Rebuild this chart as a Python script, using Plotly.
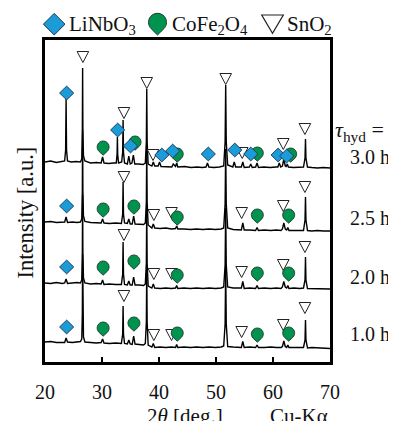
import math
import plotly.graph_objects as go

FONT = "Liberation Serif"

# ---------------- data ----------------
HOUR_LABELS = ["3.0 h.", "2.5 h.", "2.0 h.", "1.0 h."]
OFFSETS = [200, 140, 79, 20]          # vertical stacking offsets (a.u.)
X_TICKS = [20, 30, 40, 50, 60, 70]

# 3.0 h pattern (2theta, intensity a.u.)
X_TOP = [20.0, 21.0, 22.0, 23.0, 23.45, 23.62, 23.7, 23.78, 23.95, 24.6,
         25.4, 26.2, 26.45, 26.55, 26.6, 26.65, 26.75, 27.0, 28.0, 29.0,
         29.85, 30.1, 30.35, 31.2, 32.0, 32.5, 32.65, 32.7, 32.75, 32.9,
         33.45, 33.63, 33.7, 33.77, 33.95, 34.45, 34.7, 34.95, 35.25, 35.5,
         35.75, 36.4, 37.2, 37.6, 37.78, 37.85, 37.92, 38.1, 38.75, 39.0,
         39.25, 39.85, 40.1, 40.35, 41.3, 42.25, 42.5, 42.75, 42.9, 43.1,
         43.3, 44.5, 45.6, 46.7, 47.6, 48.25, 48.5, 48.75, 49.6, 50.6,
         51.35, 51.6, 51.7, 51.8, 52.05, 52.95, 53.2, 53.45, 54.45, 54.7,
         54.95, 55.85, 56.1, 56.35, 56.95, 57.2, 57.45, 58.4, 59.5, 60.5,
         60.85, 61.1, 61.35, 61.65, 61.9, 62.15, 62.3, 62.5, 62.7, 63.6,
         64.6, 65.35, 65.62, 65.7, 65.78, 66.05, 66.8, 67.8, 68.8, 70.0]
INT_30 = [0, 1, -0.5, 0.5, 1, 12, 63, 12, 1, 0,
          0.5, 0, 3, 30, 94, 30, 6, 1, -1, -0.5,
          -1, 5, -1, -1.5, -1, -1, 8, 25, 8, -1,
          0, 10, 42, 10, -1, -2, 6, -2, -1, 7,
          -2, -2, -2.5, -1, 20, 73, 20, -2, -4, 0,
          -4, -4, 0, -4.5, -4.5, -5, -2, -4.5, -4.5, -1,
          -5, -4.5, -5.5, -5, -5.5, -5, -1, -5, -5.5, -5,
          -4, 20, 77, 20, -3, -5, 0, -5, -5, 0,
          -5.5, -5, -2, -5.5, -5, -1, -5.5, -5, -5.5, -5,
          -5, -1, -5, -4, 3, -4, -4.5, -2, -5, -5.5,
          -5, -5, 4, 23, 4, -5, -5.5, -6, -5.5, -6]

# 2.5 h, 2.0 h, 1.0 h patterns share one 2theta grid
X_LOW = [20.0, 21.0, 22.0, 23.0, 23.45, 23.7, 23.95, 24.8, 25.6, 26.2,
         26.45, 26.55, 26.6, 26.65, 26.75, 27.0, 28.0, 29.0, 29.85, 30.1,
         30.35, 31.3, 32.4, 33.4, 33.63, 33.7, 33.77, 33.95, 34.45, 34.7,
         34.95, 35.3, 35.55, 35.8, 36.5, 37.3, 37.6, 37.78, 37.85, 37.92,
         38.1, 38.75, 39.0, 39.25, 40.2, 41.2, 42.2, 42.9, 43.1, 43.3,
         44.4, 45.5, 46.6, 47.7, 48.8, 49.9, 50.9, 51.35, 51.6, 51.7,
         51.8, 52.05, 53.0, 54.45, 54.7, 54.95, 55.9, 56.95, 57.2, 57.45,
         58.5, 59.6, 60.6, 61.4, 61.65, 61.9, 62.15, 62.4, 62.6, 62.8,
         63.7, 64.7, 65.35, 65.62, 65.7, 65.78, 66.05, 66.8, 67.8, 68.8,
         70.0]
INT_25 = [0, 0.5, -0.5, 0, 0, 5, -0.5, 0, -0.5, 0,
          3, 30, 92, 30, 6, 0.5, -0.5, -1, -1, 3,
          -1, -1.5, -1, -1.5, 8, 40, 8, -1, -1.5, 3,
          -2, -2, 6, -2, -2, -2.5, -1, 20, 76, 20,
          -3, -6, -2, -6, -6.5, -6, -7, -6.5, -4, -7,
          -7, -7.5, -7, -7.5, -7, -7.5, -7, -6, 18, 73,
          18, -6, -7.5, -8, -1, -8, -8, -8.5, -5.5, -8.5,
          -8, -8.5, -8, -8.5, -7, -1, -7, -8, -5.5, -8.5,
          -8.5, -8.5, -8.5, 2, 25, 2, -8.5, -9, -8.5, -9,
          -9]
INT_20 = [0, -0.5, 0.5, -0.5, 0, 4, -0.5, 0, 0.5, 0,
          3, 28, 88, 28, 5, 0, -1, -0.5, -1, 3,
          -1.5, -1, -1.5, -1.5, 9, 41, 9, -1.5, -2, 2,
          -2, -2, 6, -2, -2, -2.5, -1, 20, 75, 20,
          -3, -5, -1, -5, -5.5, -5, -5.5, -5, -2.5, -5.5,
          -5, -5.5, -5, -5.5, -5, -5.5, -5, -4, 18, 75,
          18, -4, -5, -5, 1.5, -5.5, -5, -5.5, -2.5, -5.5,
          -5, -5.5, -5, -5.5, -4, 1.5, -4, -5, -2.5, -5.5,
          -5, -5.5, -5, 3, 26, 3, -5.5, -5.5, -6, -5.5,
          -6]
INT_10 = [0, 0.5, -0.5, 0, -0.5, 4, 0, -0.5, 0, 0.5,
          3, 28, 88, 28, 5, 0, -0.5, -1, -0.5, 3,
          -1, -1.5, -1, -1.5, 8, 36, 8, -1.5, -2, 2,
          -2, -2.5, 6, -2, -2.5, -3, -1.5, 20, 74, 20,
          -3, -5, -1.5, -5.5, -5, -5.5, -5, -5.5, -2.5, -5.5,
          -5, -5.5, -5, -5.5, -5, -5.5, -5, -4, 18, 75,
          18, -4.5, -5, -5.5, 0.5, -5.5, -5, -5.5, -3, -5.5,
          -5.5, -5, -5.5, -5.5, -4.5, 1, -4.5, -5.5, -3, -5.5,
          -5.5, -5.5, -5.5, 2, 22, 2, -6, -5.5, -6, -6,
          -6.5]

# phase markers (2theta, level above each pattern's offset)
LN_X_30 = [23.8, 32.75, 35.0, 40.5, 42.4, 48.65, 53.3, 56.1, 60.9, 62.4]
LN_Y_30 = [69, 32, 16, 7, 11, 8, 12, 8, 7, 6]
CF_X_30 = [30.2, 35.8, 43.2, 57.25, 63.1]
CF_Y_30 = [15, 20, 8, 9, 8]
SN_X_30 = [26.65, 33.85, 37.85, 38.95, 51.7, 54.6, 61.8, 65.6]
SN_Y_30 = [105, 49, 79, 7, 83, 9, 18, 33]

LN_X_LOW = [23.8]
LN_Y_25 = [16]
LN_Y_20 = [16]
LN_Y_10 = [15]
CF_X_LOW = [30.2, 35.6, 43.2, 57.25, 62.75]
CF_Y_25 = [13, 16, 5, 7, 7]
CF_Y_20 = [16, 22, 8, 10, 10]
CF_Y_10 = [14, 19, 9, 8, 9]
SN_X_LOW = [33.85, 39.1, 42.2, 54.5, 61.8, 65.6]
SN_Y_25 = [45, 7, 9, 9, 16, 35]
SN_Y_20 = [48, 9, 9, 11, 18, 36]
SN_Y_10 = [46, 7, 7, 10, 17, 34]

assert len(X_TOP) == len(INT_30)
assert len(X_LOW) == len(INT_25) == len(INT_20) == len(INT_10)

# ---------------- geometry (window pixel design coords) ----------------
WIN_W, WIN_H = 396, 421
PAGE_PAD = 8                      # default body margin of the html page
PL, PR, PT, PB = 45, 330, 40, 362  # plot area in window pixels
PW, PH = PR - PL, PB - PT
XR = [20, 70]
YR = [0, PH]                      # 1 a.u. == 1 px vertically
DEG_PER_PX = (XR[1] - XR[0]) / PW

FIG_W, FIG_H = WIN_W - PAGE_PAD, WIN_H - PAGE_PAD
M_L, M_T = PL - PAGE_PAD, PT - PAGE_PAD
M_R, M_B = FIG_W - M_L - PW, FIG_H - M_T - PH


def px2paper(px, py):
    return (px - PL) / PW, (PB - py) / PH


BLUE = "#1c9bd9"
GREEN = "#00924f"
EDGE_B = "#1d3550"
EDGE_G = "#1f3a28"
EDGE_T = "#222222"

fig = go.Figure()

# spectra
patterns = [(X_TOP, INT_30, OFFSETS[0]), (X_LOW, INT_25, OFFSETS[1]),
            (X_LOW, INT_20, OFFSETS[2]), (X_LOW, INT_10, OFFSETS[3])]
for xs, ys, off in patterns:
    fig.add_trace(go.Scatter(x=xs, y=[v + off for v in ys], mode="lines",
                             line=dict(color="black", width=1.4),
                             hoverinfo="skip", showlegend=False))

ln_sets = [(LN_X_30, LN_Y_30, OFFSETS[0]), (LN_X_LOW, LN_Y_25, OFFSETS[1]),
           (LN_X_LOW, LN_Y_20, OFFSETS[2]), (LN_X_LOW, LN_Y_10, OFFSETS[3])]
cf_sets = [(CF_X_30, CF_Y_30, OFFSETS[0]), (CF_X_LOW, CF_Y_25, OFFSETS[1]),
           (CF_X_LOW, CF_Y_20, OFFSETS[2]), (CF_X_LOW, CF_Y_10, OFFSETS[3])]
sn_sets = [(SN_X_30, SN_Y_30, OFFSETS[0]), (SN_X_LOW, SN_Y_25, OFFSETS[1]),
           (SN_X_LOW, SN_Y_20, OFFSETS[2]), (SN_X_LOW, SN_Y_10, OFFSETS[3])]


# --- marker outline paths; offsets given in screen pixels (y down) ---
def data_mapper(x, y):
    return lambda dx, dy: f"{x + dx * DEG_PER_PX:.4f},{y - dy:.3f}"


def paper_mapper(px, py):
    def f(dx, dy):
        ax, ay = px2paper(px + dx, py + dy)
        return f"{ax:.5f},{ay:.5f}"
    return f


def tri_path(m, hw, top, tip):
    return f"M{m(-hw, -top)} L{m(hw, -top)} L{m(0, tip)} Z"


def diamond_path(m, a, b):
    return f"M{m(-a, 0)} L{m(0, -b)} L{m(a, 0)} L{m(0, b)} Z"


def teardrop_path(m, R, T, nseg=4):
    th = math.acos(R / T)

    def P(phi):
        return (R * math.sin(phi), R * math.cos(phi))

    def D(phi):
        return (math.cos(phi), -math.sin(phi))

    start, end = th, 2 * math.pi - th
    span = (end - start) / nseg
    k = 4.0 / 3.0 * math.tan(span / 4) * R
    s = f"M{m(0, T)} L{m(*P(start))}"
    for i in range(nseg):
        a = start + i * span
        b = a + span
        p0, p3, d0, d3 = P(a), P(b), D(a), D(b)
        c1 = (p0[0] + k * d0[0], p0[1] + k * d0[1])
        c2 = (p3[0] - k * d3[0], p3[1] - k * d3[1])
        s += f" C{m(*c1)} {m(*c2)} {m(*p3)}"
    return s + " Z"


def shape(path, fill, edge, width, ref="data"):
    r = ("x", "y") if ref == "data" else ("paper", "paper")
    return dict(type="path", xref=r[0], yref=r[1], path=path, fillcolor=fill,
                line=dict(color=edge, width=width), layer="above")


shapes = []
for xs, ys, off in sn_sets:
    for x, y in zip(xs, ys):
        shapes.append(shape(tri_path(data_mapper(x, y + off), 5.8, 5.5, 5.5),
                            "white", EDGE_T, 1))
for xs, ys, off in cf_sets:
    for x, y in zip(xs, ys):
        shapes.append(shape(teardrop_path(data_mapper(x, y + off), 6.0, 8.2),
                            GREEN, EDGE_G, 0.9))
for xs, ys, off in ln_sets:
    for x, y in zip(xs, ys):
        shapes.append(shape(diamond_path(data_mapper(x, y + off), 7.1, 6.9),
                            BLUE, EDGE_B, 0.9))

# legend symbols (above the frame, paper coordinates)
shapes.append(shape(diamond_path(paper_mapper(54.2, 24.2), 10.8, 10.8),
                    BLUE, EDGE_B, 1, ref="paper"))
shapes.append(shape(teardrop_path(paper_mapper(157.5, 22.3), 9.0, 12.7),
                    GREEN, EDGE_G, 1, ref="paper"))
shapes.append(shape(tri_path(paper_mapper(272.5, 24.2), 10.8, 9.2, 9.2),
                    "white", EDGE_T, 1.2, ref="paper"))

annotations = []


def ann(text, px, py, size, xanchor="left", yanchor="middle", angle=0):
    x, y = px2paper(px, py)
    annotations.append(dict(text=text, x=x, y=y, xref="paper", yref="paper",
                            xanchor=xanchor, yanchor=yanchor, showarrow=False,
                            textangle=angle,
                            font=dict(family=FONT, size=size, color="#111")))


ann("LiNbO<sub>3</sub>", 67, 25, 21)
ann("CoFe<sub>2</sub>O<sub>4</sub>", 170, 25, 21)
ann("SnO<sub>2</sub>", 285, 25, 21)

ann("<i>τ</i><sub>hyd</sub> =", 333, 131, 22)
for label, py in zip(HOUR_LABELS, [157, 218, 276.5, 333.5]):
    ann(label, 348, py, 20)

ann("Intensity [a.u.]", 25, 212.5, 22.5, xanchor="center", angle=-90)
ann("2<i>θ</i> [deg.]", 184.5, 402, 21, xanchor="center", yanchor="top")
ann("Cu-Kα", 299, 402, 21, xanchor="center", yanchor="top")

fig.update_layout(
    width=FIG_W, height=FIG_H,
    margin=dict(l=M_L, r=M_R, t=M_T, b=M_B, autoexpand=False),
    paper_bgcolor="white", plot_bgcolor="white", showlegend=False,
    font=dict(family=FONT, size=20, color="#111"),
    xaxis=dict(range=XR, tickvals=X_TICKS, ticktext=[str(t) for t in X_TICKS],
               ticks="inside", ticklen=5, tickwidth=2, tickcolor="black",
               showline=True, linewidth=3, linecolor="black", mirror=True,
               showgrid=False, zeroline=False, ticklabelstandoff=10,
               tickfont=dict(family=FONT, size=20, color="#111")),
    yaxis=dict(range=YR, showticklabels=False, ticks="",
               showline=True, linewidth=3, linecolor="black", mirror=True,
               showgrid=False, zeroline=False),
    shapes=shapes, annotations=annotations,
)

fig.write_html("out.html")
